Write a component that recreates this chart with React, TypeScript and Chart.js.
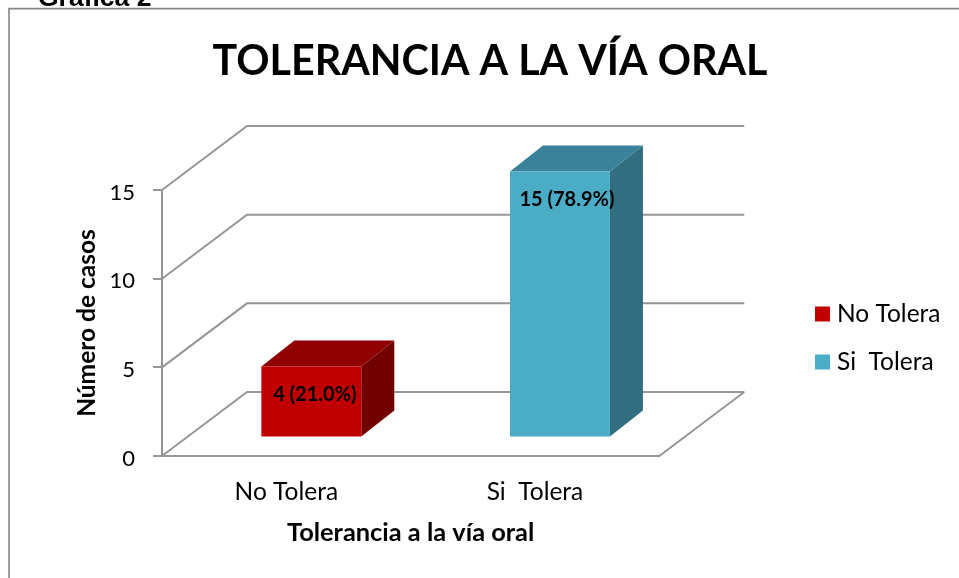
import React, { useEffect, useRef } from "react";
import { Chart, registerables } from "chart.js";

Chart.register(...registerables);

const categories = ["No Tolera", "Si  Tolera"];
const noTolera = [4, null];
const siTolera = [null, 15];
const barLabels = ["4 (21.0%)", "15 (78.9%)"];
const chartTitle = "TOLERANCIA A LA VÍA ORAL";
const xTitle = "Tolerancia a la vía oral";
const yTitle = "Número de casos";
const caption = "Gráfica 2";

const FONT = "Lato, Carlito, sans-serif";
const GRID = "#969696";
const FACE = ["#c00000", "#4bacc6"];
const TOP = ["#900000", "#39829a"];
const SIDE = ["#730000", "#316e80"];

const WALL = { dx: 85, dy: -64 };
const BAR_SHIFT = { dx: 25, dy: -18.5 };
const BAR_DEPTH = { dx: 33, dy: -26 };
const LABEL_OFFSET = [{ dx: 3.5, dy: 27.5 }, { dx: 7, dy: 28.5 }];

function poly(ctx: CanvasRenderingContext2D, pts: number[][], fill: string) {
  ctx.beginPath();
  pts.forEach((p, i) => (i ? ctx.lineTo(p[0], p[1]) : ctx.moveTo(p[0], p[1])));
  ctx.closePath();
  ctx.fillStyle = fill;
  ctx.fill();
}

const scene3d = {
  id: "scene3d",
  afterLayout(chart: any) {
    if (chart.legend) {
      chart.legend.left = 796.75;
      chart.legend.top += 49;
      chart.legend.bottom += 49;
    }
  },
  beforeDraw(chart: any) {
    const { ctx } = chart;
    ctx.save();
    ctx.strokeStyle = "#868686";
    ctx.lineWidth = 1.6;
    ctx.beginPath();
    ctx.moveTo(9, 578);
    ctx.lineTo(9, 8.6);
    ctx.lineTo(959, 8.6);
    ctx.stroke();
    ctx.fillStyle = "#000";
    ctx.font = "bold 26.5px 'Liberation Sans'";
    ctx.textBaseline = "alphabetic";
    ctx.textAlign = "left";
    ctx.fillText(caption, 38, 5.5);
    ctx.restore();
  },
  beforeDatasetsDraw(chart: any) {
    const { ctx, chartArea, scales } = chart;
    const y = scales.y;
    ctx.save();
    ctx.strokeStyle = GRID;
    ctx.lineWidth = 2;
    for (const t of y.ticks) {
      const py = y.getPixelForValue(t.value);
      ctx.beginPath();
      ctx.moveTo(chartArea.left, py);
      ctx.lineTo(chartArea.left + WALL.dx, py + WALL.dy);
      ctx.lineTo(chartArea.right + WALL.dx, py + WALL.dy);
      ctx.stroke();
    }
    const base = y.getPixelForValue(0);
    ctx.beginPath();
    ctx.moveTo(chartArea.right, base);
    ctx.lineTo(chartArea.right + WALL.dx, base + WALL.dy);
    ctx.stroke();

    chart.data.datasets.forEach((ds: any, di: number) => {
      chart.getDatasetMeta(di).data.forEach((el: any, i: number) => {
        if (ds.data[i] == null) return;
        const { x, y: top, base: bottom, width } = el.getProps(["x", "y", "base", "width"], true);
        const l = x - width / 2 + BAR_SHIFT.dx;
        const r = x + width / 2 + BAR_SHIFT.dx;
        const t = top + BAR_SHIFT.dy;
        const b = bottom + BAR_SHIFT.dy;
        const { dx, dy } = BAR_DEPTH;
        poly(ctx, [[l, t], [r, t], [r + dx, t + dy], [l + dx, t + dy]], TOP[di]);
        poly(ctx, [[r, t], [r + dx, t + dy], [r + dx, b + dy], [r, b]], SIDE[di]);
      });
    });
    ctx.restore();
    ctx.save();
    ctx.translate(BAR_SHIFT.dx, BAR_SHIFT.dy);
  },
  afterDatasetsDraw(chart: any) {
    const { ctx } = chart;
    ctx.restore();
    ctx.save();
    ctx.fillStyle = "#000";
    ctx.font = `bold 20px ${FONT}`;
    ctx.textAlign = "center";
    ctx.textBaseline = "middle";
    chart.data.datasets.forEach((ds: any, di: number) => {
      chart.getDatasetMeta(di).data.forEach((el: any, i: number) => {
        if (ds.data[i] == null) return;
        const o = LABEL_OFFSET[i];
        ctx.fillText(barLabels[i], el.x + BAR_SHIFT.dx + o.dx, el.y + BAR_SHIFT.dy + o.dy);
      });
    });
    ctx.restore();
  },
};

export default function App() {
  const ref = useRef<HTMLCanvasElement>(null);
  useEffect(() => {
    const chart = new Chart(ref.current as HTMLCanvasElement, {
      type: "bar",
      data: {
        labels: categories,
        datasets: [
          { label: "No Tolera", data: noTolera, backgroundColor: FACE[0], clip: false },
          { label: "Si  Tolera", data: siTolera, backgroundColor: FACE[1], clip: false },
        ],
      },
      plugins: [scene3d],
      options: {
        responsive: false,
        animation: false,
        barPercentage: 0.402,
        categoryPercentage: 1,
        layout: { padding: { left: 21, right: 0, top: 0, bottom: 0 } },
        plugins: {
          tooltip: { enabled: false },
          title: {
            display: true,
            text: chartTitle,
            color: "#000",
            font: { family: FONT, size: 41.2, weight: "bold" },
            padding: { top: 37, bottom: 103.6 },
          },
          legend: {
            position: "right",
            labels: {
              color: "#000",
              font: { family: FONT, size: 24.5 },
              padding: 23.5,
              boxWidth: 4.5,
              boxHeight: 4.5,
              generateLabels: (c: any) =>
                c.data.datasets.map((d: any, i: number) => ({
                  text: d.label,
                  fillStyle: d.backgroundColor,
                  strokeStyle: d.backgroundColor,
                  lineWidth: 10.5,
                  fontColor: "#000",
                  datasetIndex: i,
                })),
            },
          },
        },
        scales: {
          x: {
            stacked: true,
            grid: { display: false, drawTicks: false },
            border: { display: true, color: GRID, width: 2 },
            ticks: { color: "#000", font: { family: FONT, size: 24.5 }, padding: 21 },
            title: {
              display: true,
              text: xTitle,
              color: "#000",
              font: { family: FONT, size: 25.4, weight: "bold" },
              padding: { top: 14, bottom: 30 },
            },
            afterFit: (s: any) => { s.height = 122; },
          },
          y: {
            stacked: true,
            min: 0,
            max: 15,
            grid: { drawOnChartArea: false, drawTicks: true, tickLength: 9, color: GRID, lineWidth: 2 },
            border: { display: true, color: GRID, width: 2 },
            ticks: { stepSize: 5, color: "#000", font: { family: FONT, size: 22 }, padding: 18, labelOffset: 2.5 },
            title: {
              display: true,
              text: yTitle,
              color: "#000",
              font: { family: FONT, size: 24.5, weight: "bold" },
              padding: { top: 51, bottom: 0 },
            },
            afterFit: (s: any) => { s.width = 141; },
          },
          spacer: {
            position: "right",
            display: true,
            grid: { display: false },
            border: { display: false },
            ticks: { display: false },
            afterFit: (s: any) => { s.width = 146; },
          },
        },
      } as any,
    });
    return () => chart.destroy();
  }, []);
  return (
    <canvas
      ref={ref}
      width={959}
      height={578}
      style={{ position: "absolute", left: 0, top: 0, display: "block" }}
    />
  );
}
